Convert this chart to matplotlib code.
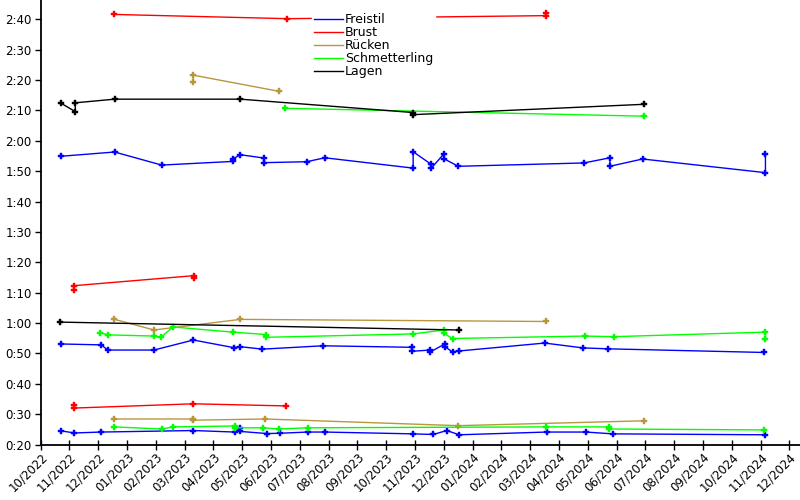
import matplotlib
matplotlib.use("Agg")
import matplotlib.pyplot as plt
from matplotlib.lines import Line2D
from matplotlib.ticker import FixedLocator, FuncFormatter
import numpy as np

# ---------------- data (times in seconds) ----------------
strokes = ["Freistil", "Brust", "Rücken", "Schmetterling", "Lagen"]
stroke_colors = ["#0000ff", "#ff0000", "#b8963c", "#00ff00", "#000000"]

freistil_50_dates = ["2022-11-10", "2022-11-24", "2022-12-22", "2023-03-28", "2023-05-10",
                     "2023-05-16", "2023-05-16", "2023-06-13", "2023-06-26", "2023-07-25",
                     "2023-08-12", "2023-11-12", "2023-12-03", "2023-12-17", "2023-12-30",
                     "2024-03-30", "2024-05-10", "2024-06-07", "2024-11-13"]
freistil_50_times = [24.5, 23.8, 24.1, 24.6, 24.1, 25.5, 24.3, 23.6, 23.7, 24.1,
                     24.1, 23.5, 23.3, 24.6, 23.2, 24.1, 24.1, 23.5, 23.2]

freistil_100_dates = ["2022-11-10", "2022-12-22", "2022-12-29", "2023-02-15", "2023-03-28",
                      "2023-05-09", "2023-05-16", "2023-06-08", "2023-08-10", "2023-11-11",
                      "2023-11-11", "2023-11-30", "2023-11-30", "2023-12-15", "2023-12-15",
                      "2023-12-23", "2023-12-30", "2024-03-28", "2024-05-07", "2024-06-02",
                      "2024-11-12"]
freistil_100_times = [53.1, 52.8, 51.1, 51.1, 54.4, 51.9, 52.2, 51.4, 52.5, 52.0,
                      50.7, 51.1, 50.5, 53.1, 52.2, 50.5, 50.8, 53.4, 51.8, 51.5, 50.3]

freistil_200_dates = ["2022-11-10", "2023-01-05", "2023-02-23", "2023-05-08", "2023-05-08",
                      "2023-05-16", "2023-06-10", "2023-06-10", "2023-07-24", "2023-08-12",
                      "2023-11-12", "2023-11-12", "2023-12-01", "2023-12-01", "2023-12-14",
                      "2023-12-14", "2023-12-29", "2024-05-08", "2024-06-04", "2024-06-04",
                      "2024-07-08", "2024-11-13", "2024-11-13"]
freistil_200_times = [114.9, 116.3, 112.0, 113.2, 114.0, 115.4, 114.3, 112.8, 113.1, 114.4,
                      111.0, 116.4, 112.2, 111.0, 115.7, 114.1, 111.6, 112.7, 114.4, 111.6,
                      114.0, 109.5, 115.6]

brust_50_dates = ["2022-11-24", "2022-11-24", "2023-03-28", "2023-07-03"]
brust_50_times = [33.1, 32.0, 33.4, 32.7]

brust_100_dates = ["2022-11-24", "2022-11-24", "2023-03-29", "2023-03-29"]
brust_100_times = [70.9, 72.3, 75.6, 74.7]

brust_200_dates = ["2023-01-04", "2023-07-04", "2024-03-29", "2024-03-29"]
brust_200_times = [161.6, 160.2, 161.2, 162.2]

ruecken_50_dates = ["2023-01-04", "2023-03-28", "2023-03-28", "2023-06-11", "2023-12-29",
                    "2024-07-09"]
ruecken_50_times = [28.4, 28.4, 28.0, 28.4, 26.2, 27.8]

ruecken_100_dates = ["2023-01-04", "2023-02-15", "2023-05-16", "2024-03-29"]
ruecken_100_times = [61.3, 57.7, 61.2, 60.5]

ruecken_200_dates = ["2023-03-28", "2023-03-28", "2023-06-25"]
ruecken_200_times = [139.3, 141.6, 136.3]

schmetterling_50_dates = ["2023-01-04", "2023-02-23", "2023-03-07", "2023-05-10", "2023-05-10",
                          "2023-06-09", "2023-06-25", "2023-07-25", "2024-03-29", "2024-06-03",
                          "2024-06-03", "2024-11-12"]
schmetterling_50_times = [25.8, 25.1, 25.8, 26.1, 25.5, 25.5, 25.1, 25.5, 25.8, 25.8,
                          25.1, 24.8]

schmetterling_100_dates = ["2022-12-21", "2022-12-29", "2023-02-15", "2023-02-22", "2023-03-07",
                           "2023-05-08", "2023-06-12", "2023-06-12", "2023-11-12", "2023-12-14",
                           "2023-12-14", "2023-12-23", "2024-05-09", "2024-06-08", "2024-11-13",
                           "2024-11-13"]
schmetterling_100_times = [56.8, 56.1, 55.7, 55.3, 58.7, 57.0, 56.2, 55.3, 56.4, 57.7,
                           56.6, 54.9, 55.7, 55.5, 57.0, 54.9]

schmetterling_200_dates = ["2023-07-02", "2024-07-09"]
schmetterling_200_times = [130.7, 128.1]

lagen_100_dates = ["2022-11-09", "2023-12-30"]
lagen_100_times = [60.3, 57.7]

lagen_200_dates = ["2022-11-10", "2022-11-25", "2022-11-25", "2023-01-05", "2023-05-16",
                   "2023-11-12", "2023-11-12", "2024-07-09"]
lagen_200_times = [132.4, 129.6, 132.5, 133.7, 133.7, 129.3, 128.6, 132.0]

series = [
    ("Freistil", freistil_50_dates, freistil_50_times),
    ("Freistil", freistil_100_dates, freistil_100_times),
    ("Freistil", freistil_200_dates, freistil_200_times),
    ("Brust", brust_50_dates, brust_50_times),
    ("Brust", brust_100_dates, brust_100_times),
    ("Brust", brust_200_dates, brust_200_times),
    ("Rücken", ruecken_50_dates, ruecken_50_times),
    ("Rücken", ruecken_100_dates, ruecken_100_times),
    ("Rücken", ruecken_200_dates, ruecken_200_times),
    ("Schmetterling", schmetterling_50_dates, schmetterling_50_times),
    ("Schmetterling", schmetterling_100_dates, schmetterling_100_times),
    ("Schmetterling", schmetterling_200_dates, schmetterling_200_times),
    ("Lagen", lagen_100_dates, lagen_100_times),
    ("Lagen", lagen_200_dates, lagen_200_times),
]

axis_start = "2022-10-20"
tick_step_days = 30
n_ticks = 27
y_ticks = list(range(20, 161, 10))

# ---------------- plotting ----------------
plt.rcParams['font.family'] = ['DejaVu Sans']
fig = plt.figure(figsize=(8, 5), dpi=100)
ax = fig.add_axes([40.7 / 800, 55.5 / 500, 1 - 40.7 / 800, 444.5 / 500])

color_of = dict(zip(strokes, stroke_colors))
for stroke, dates, times in series:
    d = np.array(dates, dtype="datetime64[D]")
    c = color_of[stroke]
    ax.plot(d, times, color=c, lw=1.0, marker="P", ms=4.5,
            mew=0.3, mec=c, mfc=c, solid_joinstyle="miter", zorder=2)

start = np.datetime64(axis_start)
ax.set_xlim(start, start + np.timedelta64(791, "D"))
ax.set_ylim(20, 166.35)

tick_dates = [start + np.timedelta64(tick_step_days * k, "D") for k in range(n_ticks)]
ax.set_xticks(tick_dates)
ax.set_xticklabels([str(t)[5:7] + "/" + str(t)[0:4] for t in tick_dates],
                   rotation=45, ha="right", rotation_mode="anchor")
ax.yaxis.set_major_locator(FixedLocator(y_ticks))
ax.yaxis.set_major_formatter(FuncFormatter(lambda v, p: f"{int(v) // 60}:{int(v) % 60:02d}"))

for s in ["top", "right"]:
    ax.spines[s].set_visible(False)
ax.spines["left"].set_linewidth(1.3)
ax.spines["bottom"].set_linewidth(1.3)
ax.tick_params(axis="y", direction="out", length=4.5, width=1, labelsize=8.5, pad=2)
ax.tick_params(axis="x", direction="inout", length=7, width=1, labelsize=8.5, pad=1)

handles = [Line2D([], [], color=c, lw=1.0) for c in stroke_colors]
leg = fig.legend(handles, strokes, loc="upper left", bbox_to_anchor=(312 / 800, 1 - 11 / 500),
                 frameon=True, fontsize=9, handlelength=2.3, handletextpad=0.2,
                 labelspacing=0.0, borderpad=0.15, borderaxespad=0, fancybox=False)
leg.get_frame().set_edgecolor("white")
leg.get_frame().set_facecolor("white")
leg.get_frame().set_alpha(1.0)
leg.set_zorder(5)

fig.savefig("out.png", dpi=100)
